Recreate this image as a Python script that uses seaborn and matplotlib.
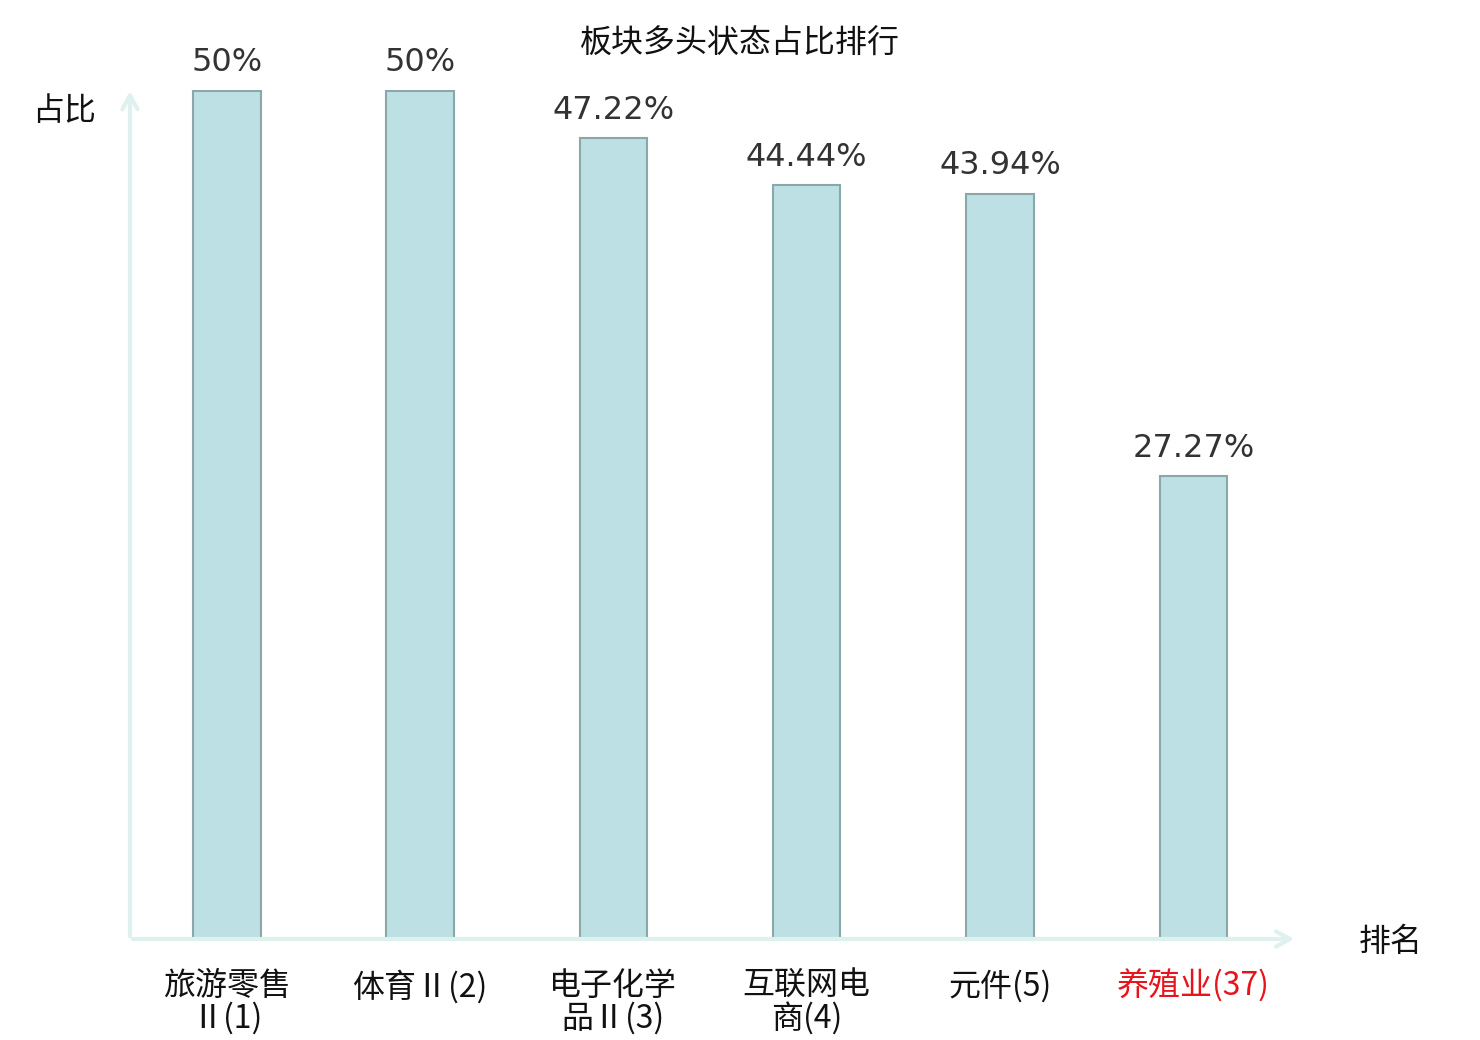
import matplotlib
matplotlib.use('Agg')
import matplotlib.pyplot as plt
import seaborn as sns

# chart data
categories = ['旅游零售\nⅡ(1)', '体育Ⅱ(2)', '电子化学\n品Ⅱ(3)', '互联网电\n商(4)', '元件(5)', '养殖业(37)']
shares = [50, 50, 47.22, 44.44, 43.94, 27.27]
value_labels = ['50%', '50%', '47.22%', '44.44%', '43.94%', '27.27%']
highlight = [False, False, False, False, False, True]

sns.set_style('white')
plt.rcParams['font.family'] = ['Noto Sans CJK SC', 'DejaVu Sans']

fig = plt.figure(figsize=(14.8, 10.4), dpi=100)
ax = fig.add_axes([130 / 1480, 1 - 939 / 1040, 1160 / 1480, 849 / 1040])

sns.barplot(x=categories, y=shares, ax=ax, width=0.35, color='#bce0e3',
            saturation=1, edgecolor='#8aa8aa', linewidth=1.5)

ax.set_xlim(-0.5, 5.5)
ax.set_ylim(0, 50.05)
ax.set_yticks([])
for s in ax.spines.values():
    s.set_visible(False)

# value labels above bars
ax.bar_label(ax.containers[0], labels=value_labels, padding=9,
             fontsize=23, color='#333333', family='DejaVu Sans')

ax.tick_params(axis='x', length=0, pad=22, labelsize=23)
for lbl, hl in zip(ax.get_xticklabels(), highlight):
    lbl.set_color('#e8141c' if hl else '#111111')
    lbl.set_linespacing(1.0)

# axis arrows
arrow_kw = dict(arrowstyle='->,head_length=1.0,head_width=0.55', color='#dff1ee', lw=3)
ax.annotate('', xy=(0, 1.002), xytext=(0, 0), xycoords='axes fraction',
            arrowprops=arrow_kw, annotation_clip=False)
ax.annotate('', xy=(1.006, 0), xytext=(0, 0), xycoords='axes fraction',
            arrowprops=arrow_kw, annotation_clip=False)

fig.text(32 / 1480, 1 - 111 / 1040, '占比', fontsize=23, va='center', ha='left', color='#111111')
fig.text(1359 / 1480, 1 - 942 / 1040, '排名', fontsize=23, va='center', ha='left', color='#111111')
fig.text(740 / 1480, 1 - 44 / 1040, '板块多头状态占比排行', fontsize=23, va='center', ha='center', color='#111111')

fig.savefig('out.png', dpi=100)
